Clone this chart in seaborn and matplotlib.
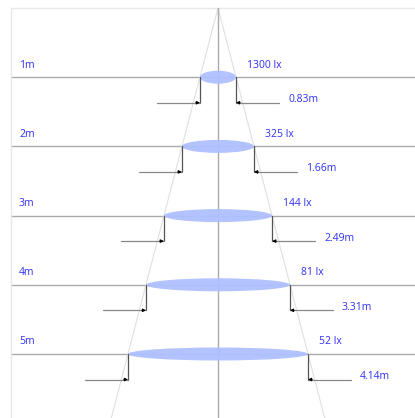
import matplotlib
matplotlib.use('Agg')
import matplotlib.pyplot as plt
from matplotlib.patches import Ellipse
import numpy as np
import pandas as pd
import seaborn as sns

# Beam data
distances = [1, 2, 3, 4, 5]
lux = [1300, 325, 144, 81, 52]
diameters = [0.83, 1.66, 2.49, 3.31, 4.14]
dist_labels = ['1m', '2m', '3m', '4m', '5m']

sns.set_theme(style='white')
plt.rcParams['font.family'] = ['Open Sans', 'DejaVu Sans']

BLUE = '#2f2ff5'
# pixel scale of the drawing (px per metre)
PX_X = 43.5
PX_Y = 69.2
W, H = 415, 418
CX, TOP = 218, 8

fig = plt.figure(figsize=(W / 100, H / 100), dpi=100)
ax = fig.add_axes([0, 0, 1, 1])
ax.set_xlim(-CX / PX_X, (W - CX) / PX_X)
ax.set_ylim((H - TOP) / PX_Y, -TOP / PX_Y)
ax.axis('off')

x_frame = (11 - CX) / PX_X
y_bot = (H - TOP) / PX_Y

# light frame at top and left
ax.plot([x_frame, (W - CX) / PX_X], [0, 0], color='#e8e8e8', lw=1)
ax.plot([x_frame, x_frame], [0, y_bot], color='#e8e8e8', lw=1)

# beam cone
half = diameters[-1] / 2 / distances[-1]
cone = pd.DataFrame({'x': [-half * y_bot, 0, half * y_bot], 'y': [y_bot, 0, y_bot]})
sns.lineplot(data=cone, x='x', y='y', sort=False, estimator=None, color='#e0e0e0', lw=0.8, ax=ax)

# centre axis
ax.plot([0, 0], [0, y_bot], color='#aaaaaa', lw=1)

arrow_len = 43 / PX_X
drop = 25.5 / PX_Y
for d, lx, dia, lab in zip(distances, lux, diameters, dist_labels):
    ax.plot([x_frame, (W - CX) / PX_X], [d, d], color='#aaaaaa', lw=1, zorder=1)
    ax.add_patch(Ellipse((0, d), dia, 13 / PX_Y, facecolor='#aec0ff', edgecolor='none', alpha=0.95, zorder=2))
    r = dia / 2
    # dimension lines
    for s in (-1, 1):
        ax.plot([s * r, s * r], [d, d + drop], color='#555555', lw=0.9, zorder=3)
        ax.plot([s * (r + arrow_len), s * r], [d + drop, d + drop], color='#888888', lw=0.9, zorder=3)
        ax.annotate('', xy=(s * r, d + drop), xytext=(s * (r + 0.1), d + drop),
                    arrowprops=dict(arrowstyle='-|>', color='black', lw=0.6,
                                    mutation_scale=5, shrinkA=0, shrinkB=0), zorder=4)
    ax.text(x_frame + 8 / PX_X, d - 12 / PX_Y, lab, color=BLUE, fontsize=7.5, va='center', ha='left')
    ax.text(r + 11 / PX_X, d - 12 / PX_Y, f'{lx} lx', color=BLUE, fontsize=7.5, va='center', ha='left')
    ax.text(r + 52 / PX_X, d + drop - 3 / PX_Y, f'{dia:.2f}m', color=BLUE, fontsize=7.5, va='center', ha='left')

fig.savefig('out.png', dpi=100)
